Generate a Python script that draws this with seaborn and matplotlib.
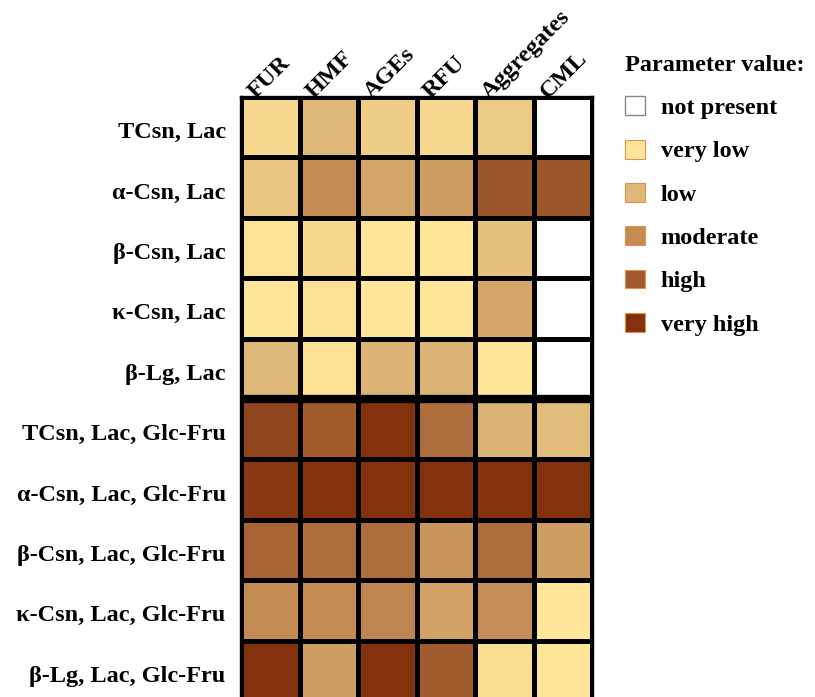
import numpy as np
import pandas as pd
import seaborn as sns
import matplotlib.pyplot as plt
from matplotlib.colors import LinearSegmentedColormap
from matplotlib.patches import Patch
from matplotlib.transforms import ScaledTranslation

nan = np.nan

samples = ["TCsn, Lac", "α-Csn, Lac", "β-Csn, Lac", "κ-Csn, Lac", "β-Lg, Lac",
           "TCsn, Lac, Glc-Fru", "α-Csn, Lac, Glc-Fru", "β-Csn, Lac, Glc-Fru",
           "κ-Csn, Lac, Glc-Fru", "β-Lg, Lac, Glc-Fru"]
parameters = ["FUR", "HMF", "AGEs", "RFU", "Aggregates", "CML"]

# Scores per parameter: 1 = very low ... 5 = very high, NaN = not present
fur        = [1.3, 1.7, 1.05, 1.0, 2.0, 4.5, 4.8, 3.8, 3.0, 5.0]
hmf        = [2.0, 3.0, 1.3, 1.1, 1.1, 4.0, 5.0, 3.6, 3.0, 2.6]
ages       = [1.5, 2.4, 1.0, 1.0, 2.1, 5.0, 5.0, 3.6, 3.1, 5.0]
rfu        = [1.3, 2.6, 1.0, 1.0, 2.1, 3.6, 5.0, 2.8, 2.5, 4.0]
aggregates = [1.6, 4.1, 1.8, 2.4, 1.0, 2.1, 5.0, 3.6, 2.95, 1.2]
cml        = [nan, 4.1, nan, nan, nan, 1.9, 5.0, 2.6, 1.0, 1.0]

level_names = ["not present", "very low", "low", "moderate", "high", "very high"]
level_colors = ["#FFE597", "#DEB878", "#C48B55", "#A05A2C", "#82310C"]

plt.rcParams["font.family"] = ["Liberation Serif", "DejaVu Serif"]
plt.rcParams["font.weight"] = "bold"
FS = 17.5

data = pd.DataFrame(
    {"FUR": fur, "HMF": hmf, "AGEs": ages, "RFU": rfu,
     "Aggregates": aggregates, "CML": cml},
    index=samples,
)[parameters]

cmap = LinearSegmentedColormap.from_list(
    "browns", list(zip(np.linspace(0, 1, 5), level_colors)))
cmap.set_bad("white")

fig = plt.figure(figsize=(8.15, 6.97), dpi=100)
ax = fig.add_axes([241 / 815, -4 / 697, 351 / 815, 604 / 697])
ax.set_facecolor("white")

sns.heatmap(data, ax=ax, cmap=cmap, vmin=1, vmax=5, cbar=False,
            linewidths=2.4, linecolor="black", square=False)

# separator between lactose-only and lactose + glucose-fructose systems
ax.axhline(5, color="black", lw=6)

for side in ["top", "bottom", "left", "right"]:
    ax.spines[side].set_visible(True)
    ax.spines[side].set_color("black")
    ax.spines[side].set_linewidth(2.4)

ax.xaxis.tick_top()
ax.set_xticklabels(parameters, rotation=45, ha="left", va="baseline",
                   rotation_mode="anchor", fontsize=FS, fontweight="bold")
ax.set_yticklabels(samples, rotation=0, fontsize=FS, fontweight="bold",
                   va="center_baseline")
ax.tick_params(axis="both", length=0)
ax.tick_params(axis="y", pad=11)
ax.tick_params(axis="x", pad=0)
ax.set_xlabel("")
ax.set_ylabel("")

# start each rotated column name a little left of its column centre
shift_x = ScaledTranslation(-15 / 100, -2 / 100, fig.dpi_scale_trans)
for lbl in ax.get_xticklabels():
    lbl.set_transform(lbl.get_transform() + shift_x)
shift_y = ScaledTranslation(0, -3 / 100, fig.dpi_scale_trans)
for lbl in ax.get_yticklabels():
    lbl.set_transform(lbl.get_transform() + shift_y)

handles = [Patch(facecolor="white", edgecolor="#888888", lw=1.0)]
handles += [Patch(facecolor=c, edgecolor="#E8904A", lw=0.8) for c in level_colors]
leg = fig.legend(handles, level_names, loc="upper left",
                 bbox_to_anchor=(603 / 815, 1 - 33 / 697),
                 frameon=False, title="Parameter value:",
                 prop={"size": FS, "weight": "bold"},
                 title_fontproperties={"size": FS, "weight": "bold"},
                 handlelength=0.82, handleheight=0.82, handletextpad=0.65,
                 labelspacing=0.84, alignment="left")

fig.savefig("out.png", dpi=100)
